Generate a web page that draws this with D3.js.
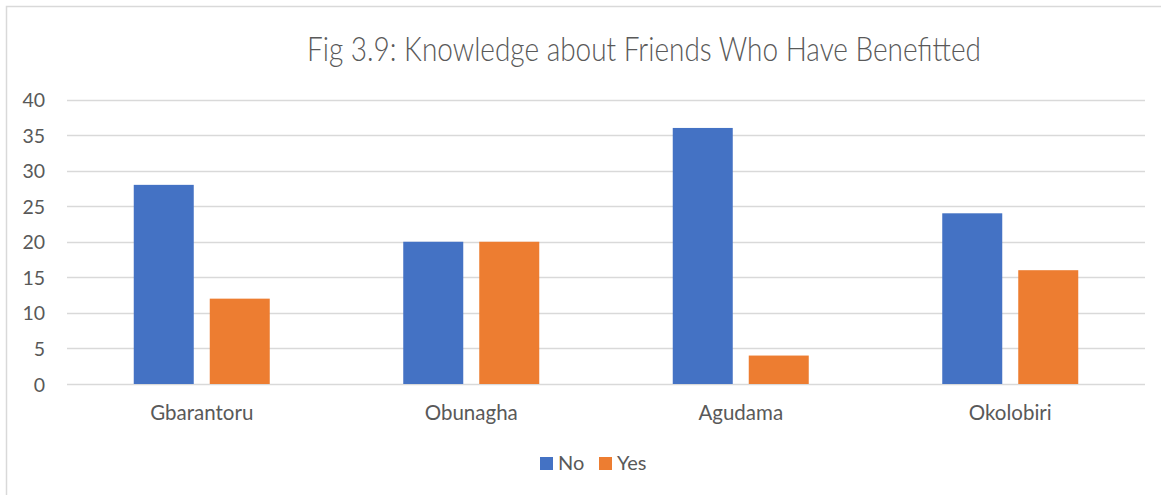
<!DOCTYPE html>
<html><head><meta charset="utf-8">
<script src="https://cdn.jsdelivr.net/npm/d3@7"></script>
<style>body{margin:0;background:#fff;} svg{display:block;font-family:Lato,"Open Sans",sans-serif;}</style>
</head><body>
<svg id="c" width="1161" height="495"></svg>
<script>
const title = "Fig 3.9: Knowledge about Friends Who Have Benefitted";
const categories = ["Gbarantoru","Obunagha","Agudama","Okolobiri"];
const seriesNames = ["No","Yes"];
const noValues = [28,20,36,24];
const yesValues = [12,20,4,16];
const yTicks = [0,5,10,15,20,25,30,35,40];
const colors = ["#4472C4","#ED7D31"];

const svg = d3.select("#c");
const textColor = "#595959";
const grid = "#D9D9D9";

// frame
svg.append("path").attr("d","M6.5,495 V6.5 H1161").attr("fill","none").attr("stroke",grid).attr("stroke-width",1.5);

const m = {left:67,right:1145,top:99.5,bottom:384};
const x = d3.scaleBand().domain(categories).range([m.left,m.right]);
const y = d3.scaleLinear().domain([0,40]).range([m.bottom,m.top]);
const barW = 60, gap = 16;
const xs = d3.scaleOrdinal().domain(seriesNames).range([-(gap/2+barW), gap/2]);

// gridlines
svg.append("g").selectAll("line").data(yTicks).join("line")
  .attr("x1",m.left).attr("x2",m.right)
  .attr("y1",d=>Math.round(y(d))+0.5).attr("y2",d=>Math.round(y(d))+0.5)
  .attr("stroke",grid).attr("stroke-width",1.5);

// y axis labels
const yAxis = d3.axisLeft(y).tickValues(yTicks).tickSize(0).tickPadding(0);
const ga = svg.append("g").attr("transform",`translate(45,0)`).call(yAxis);
ga.select(".domain").remove();
ga.selectAll("text").attr("fill",textColor).style("font-size","19.5px").style("font-family","Lato,'Open Sans',sans-serif").attr("dy","0.36em");

// bars
const data = categories.map((c,i)=>({c, vals:[noValues[i],yesValues[i]]}));
const gb = svg.append("g");
seriesNames.forEach((s,si)=>{
  gb.selectAll(null).data(data).join("rect")
    .attr("x",d=>x(d.c)+x.bandwidth()/2+xs(s))
    .attr("width",barW)
    .attr("y",d=>y(d.vals[si]))
    .attr("height",d=>y(0)-y(d.vals[si]))
    .attr("fill",colors[si]);
});

// x axis labels
const xAxis = d3.axisBottom(x).tickSize(0).tickPadding(0);
const gx = svg.append("g").attr("transform",`translate(0,420)`).call(xAxis);
gx.select(".domain").remove();
gx.selectAll("text").attr("fill",textColor).attr("dy",0).style("font-size","20.5px").style("font-family","Lato,'Open Sans',sans-serif");

// title
svg.append("text").attr("transform","translate(644,61) scale(1,1.18)").attr("text-anchor","middle")
  .attr("fill",textColor).style("font-size","28px").style("font-weight","300").text(title);

// legend
const lg = svg.append("g");
const legendX = [540,599];
seriesNames.forEach((s,i)=>{
  lg.append("rect").attr("x",legendX[i]).attr("y",457).attr("width",13).attr("height",13).attr("fill",colors[i]);
  lg.append("text").attr("x",legendX[i]+18).attr("y",470).attr("fill",textColor).style("font-size","20px").text(s);
});
</script>
</body></html>
